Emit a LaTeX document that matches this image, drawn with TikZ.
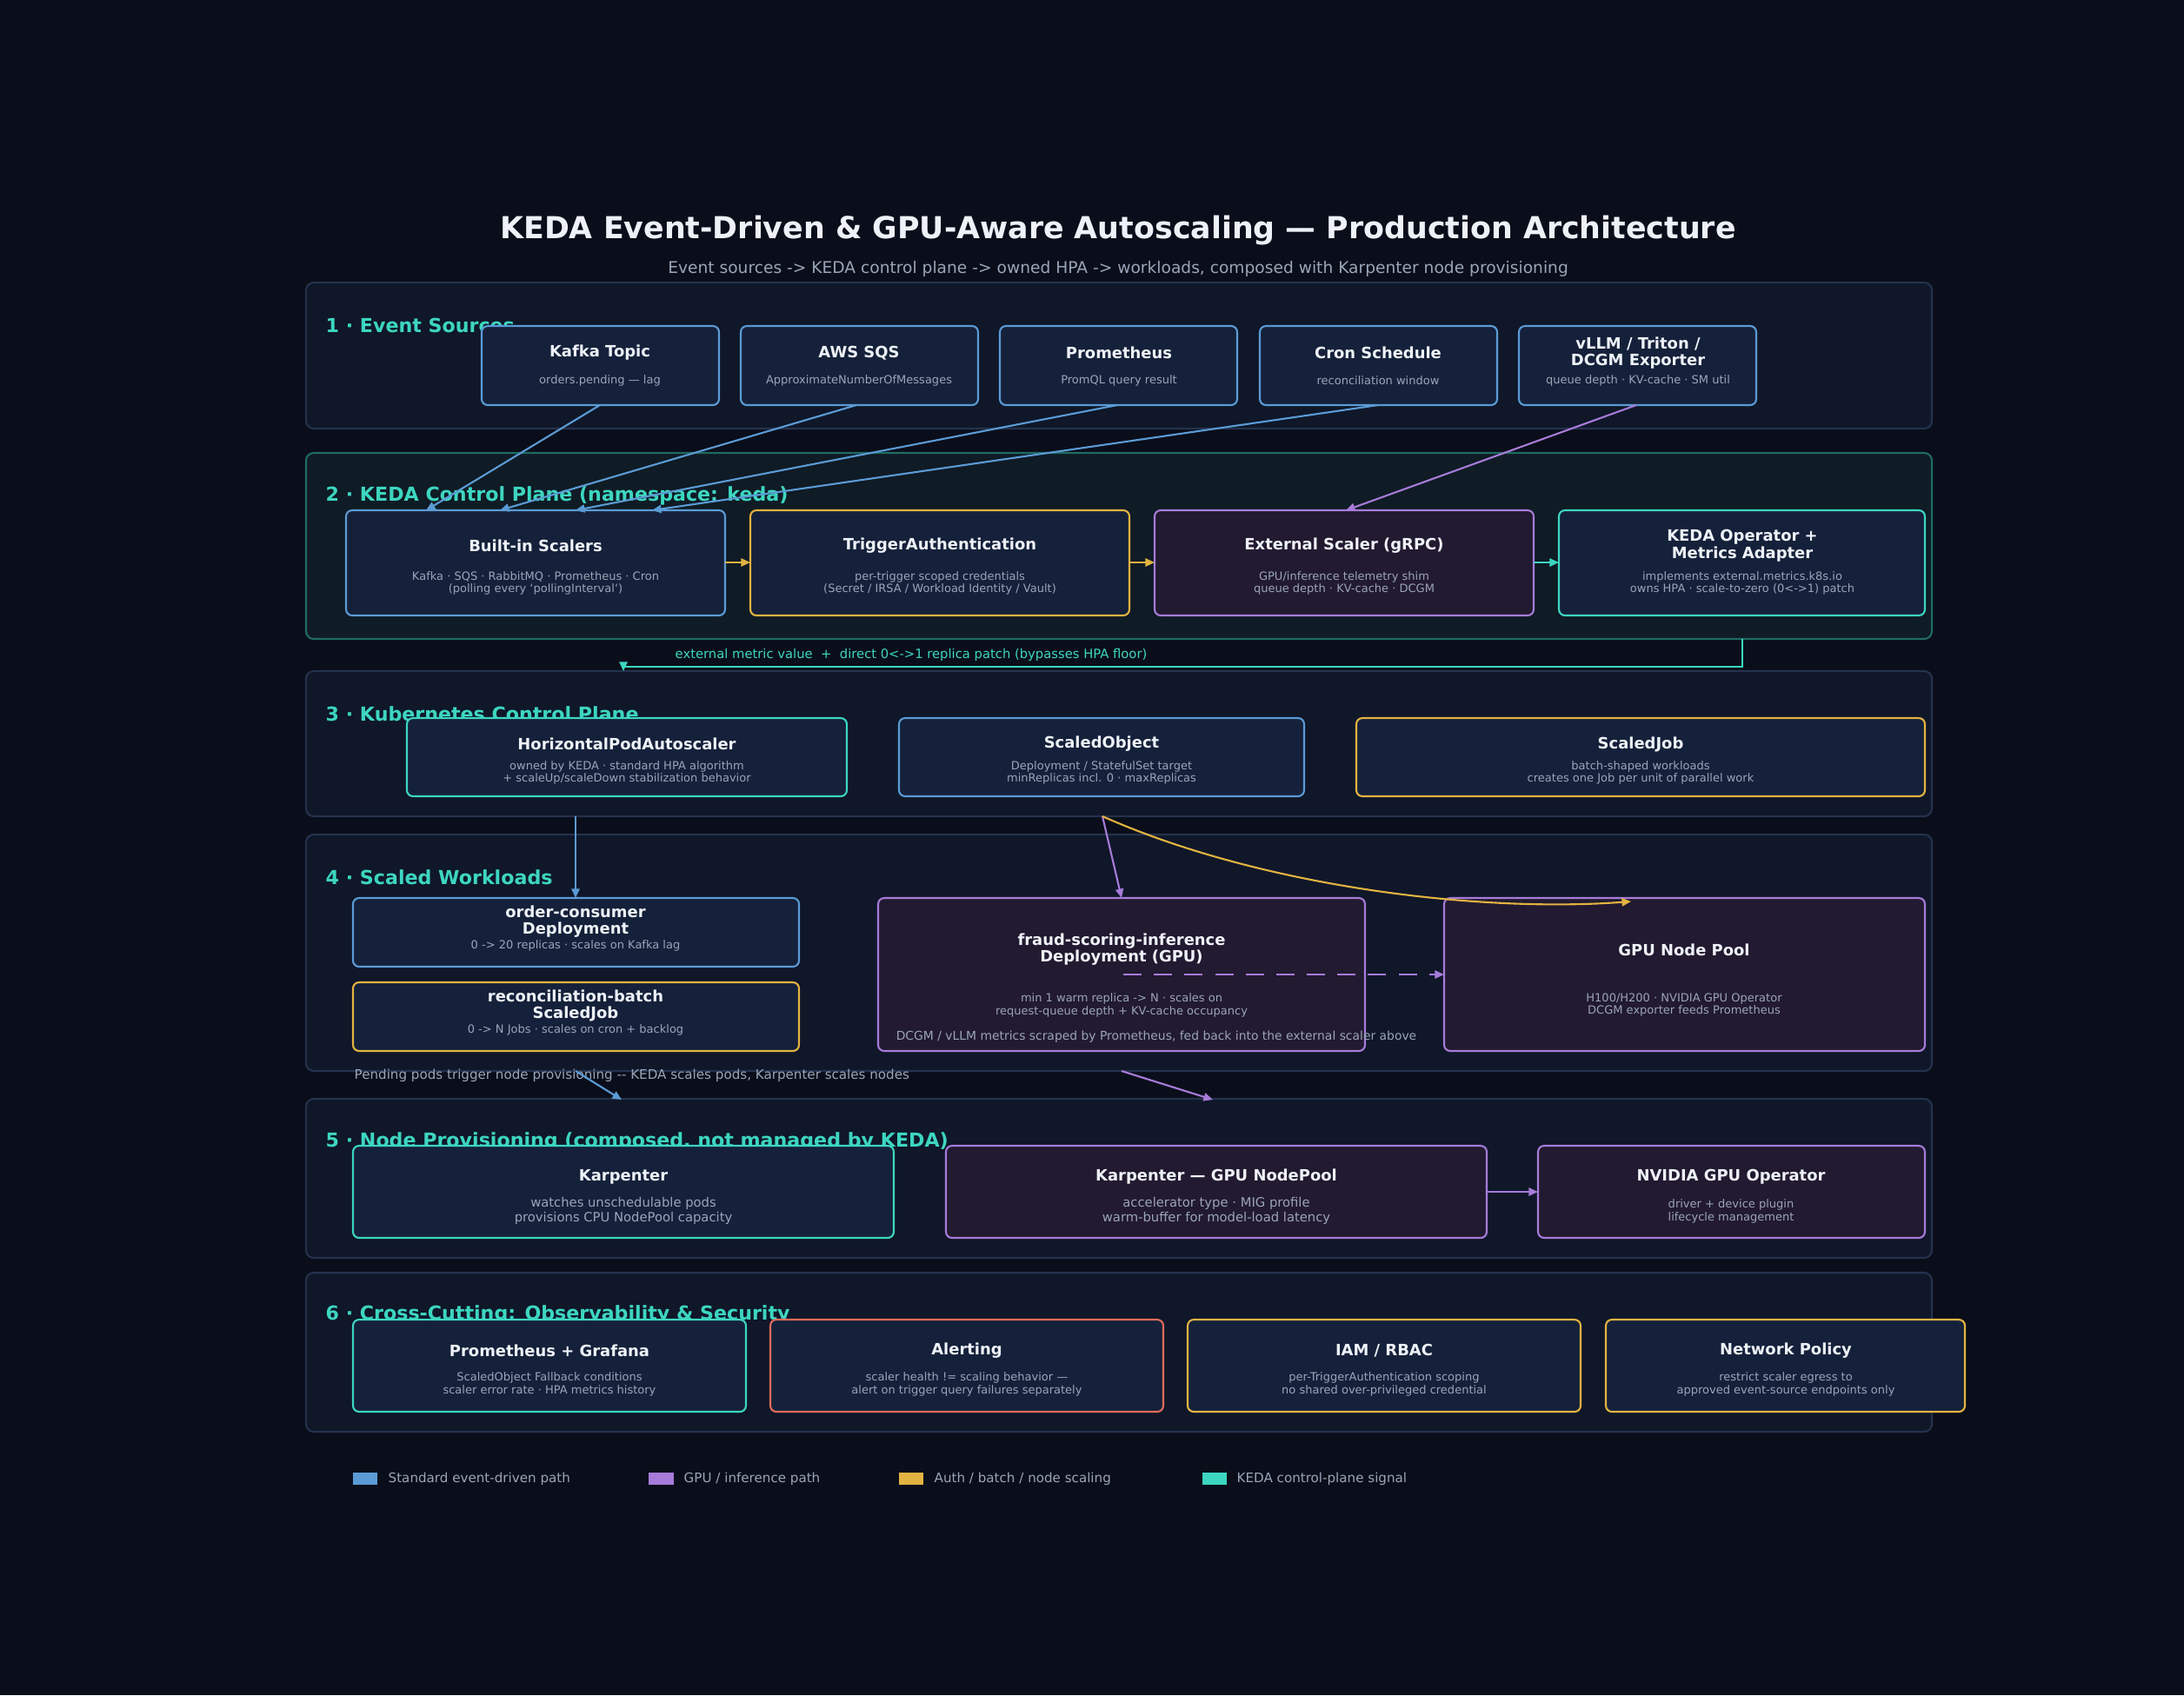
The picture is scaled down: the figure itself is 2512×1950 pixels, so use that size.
\documentclass[tikz,border=0pt]{standalone}
\usepackage{fontspec}
\setmainfont{DejaVu Sans}
\usetikzlibrary{arrows.meta}
\definecolor{bg}{HTML}{0A0E1A}
\definecolor{pfill}{HTML}{0F1729}
\definecolor{pborder}{HTML}{25324D}
\definecolor{kfill}{HTML}{0F1B25}
\definecolor{kborder}{HTML}{1F6B63}
\definecolor{bfill}{HTML}{15213A}
\definecolor{gfill}{HTML}{221A30}
\definecolor{cblue}{HTML}{5B9BD5}
\definecolor{cpurp}{HTML}{A77BD9}
\definecolor{cyel}{HTML}{E3B341}
\definecolor{cteal}{HTML}{3DD6C0}
\definecolor{cred}{HTML}{E06C5A}
\definecolor{ttl}{HTML}{EEF2F8}
\definecolor{sub}{HTML}{9AA5B8}
\begin{document}
\begin{tikzpicture}[x=0.01cm,y=-0.01cm,
 panel/.style={draw=pborder,fill=pfill,line width=0.6pt,rounded corners=2.5pt},
 box/.style={fill=bfill,line width=0.6pt,rounded corners=2pt},
 plabel/.style={anchor=west,inner sep=0pt,text=cteal,font=\bfseries\fontsize{6.3}{7}\selectfont},
 bt/.style={text=ttl,font=\bfseries\fontsize{5.1}{5.6}\selectfont,align=center},
 bs/.style={text=sub,font=\fontsize{3.7}{4.2}\selectfont,align=center},
 ar/.style={-{Triangle[length=3pt,width=2.6pt]},line width=0.6pt},
 note/.style={text=sub,font=\fontsize{4.3}{5}\selectfont}]
\fill[bg] (0,0) rectangle (2512,1950);
\useasboundingbox (0,0) rectangle (2512,1950);
\node[text=ttl,font=\bfseries\fontsize{9.9}{12}\selectfont] (title) at (1286,265) {KEDA Event-Driven \& GPU-Aware Autoscaling — Production Architecture};
\node[text=sub,font=\fontsize{5.3}{6}\selectfont] (subt) at (1286,309) {Event sources -> KEDA control plane -> owned HPA -> workloads, composed with Karpenter node provisioning};
% panels
\draw[panel] (352,325) rectangle (2222,493);
\node[plabel] (l1) at (374,374) {1 · Event Sources};
\draw[draw=kborder,fill=kfill,line width=0.6pt,rounded corners=2.5pt] (352,521) rectangle (2222,735);
\node[plabel] (l2) at (374,570) {2 · KEDA Control Plane  (namespace: keda)};
\draw[panel] (352,772) rectangle (2222,939);
\node[plabel] (l3) at (374,821) {3 · Kubernetes Control Plane};
\draw[panel] (352,960) rectangle (2222,1232);
\node[plabel] (l4) at (374,1009) {4 · Scaled Workloads};
\draw[panel] (352,1264) rectangle (2222,1447);
\node[plabel] (l5) at (374,1313) {5 · Node Provisioning (composed, not managed by KEDA)};
\draw[panel] (352,1464) rectangle (2222,1647);
\node[plabel] (l6) at (374,1512) {6 · Cross-Cutting: Observability \& Security};
% row 1
\draw[box,draw=cblue] (554,375) rectangle (827,466); \coordinate (kafka) at (690,466);
\node[bt] at (690,406) {Kafka Topic}; \node[bs] at (690,438) {orders.pending — lag};
\draw[box,draw=cblue] (852,375) rectangle (1125,466); \coordinate (sqs) at (985,466);
\node[bt] at (988,406) {AWS SQS}; \node[bs] at (988,438) {ApproximateNumberOfMessages};
\draw[box,draw=cblue] (1150,375) rectangle (1423,466); \coordinate (prom) at (1285,466);
\node[bt] at (1287,406) {Prometheus}; \node[bs] at (1287,438) {PromQL query result};
\draw[box,draw=cblue] (1449,375) rectangle (1722,466); \coordinate (cron) at (1585,466);
\node[bt] at (1585,406) {Cron Schedule}; \node[bs] at (1585,438) {reconciliation window};
\draw[box,draw=cblue] (1747,375) rectangle (2020,466); \coordinate (vllm) at (1882,466);
\node[bt] at (1884,406) {vLLM / Triton /\\DCGM Exporter}; \node[bs] at (1884,438) {queue depth · KV-cache · SM util};
% row 2
\draw[box,draw=cblue] (398,587) rectangle (834,708);
\node[bt] at (616,628) {Built-in Scalers}; \node[bs] at (616,671) {Kafka · SQS · RabbitMQ · Prometheus · Cron\\(polling every `pollingInterval`)};
\draw[box,draw=cyel] (863,587) rectangle (1299,708);
\node[bt] at (1081,628) {TriggerAuthentication}; \node[bs] at (1081,671) {per-trigger scoped credentials\\(Secret / IRSA / Workload Identity / Vault)};
\draw[box,draw=cpurp,fill=gfill] (1328,587) rectangle (1764,708);
\node[bt] at (1546,628) {External Scaler (gRPC)}; \node[bs] at (1546,671) {GPU/inference telemetry shim\\queue depth · KV-cache · DCGM};
\draw[box,draw=cteal] (1793,587) rectangle (2214,708);
\node[bt] at (2004,628) {KEDA Operator +\\Metrics Adapter}; \node[bs] at (2004,671) {implements external.metrics.k8s.io\\owns HPA · scale-to-zero (0<->1) patch};
\coordinate (bi) at (490,587); \coordinate (bi2) at (575,587); \coordinate (bi3) at (662,587); \coordinate (bi4) at (750,587); \coordinate (ext) at (1548,587);
\draw[ar,cblue] (kafka) -- (bi);
\draw[ar,cblue] (sqs) -- (bi2);
\draw[ar,cblue] (prom) -- (bi3);
\draw[ar,cblue] (cron) -- (bi4);
\draw[ar,cpurp] (vllm) -- (ext);
\coordinate (a1) at (834,647); \coordinate (a2) at (863,647);
\coordinate (a3) at (1299,647); \coordinate (a4) at (1328,647);
\coordinate (a5) at (1764,647); \coordinate (a6) at (1793,647);
\draw[ar,cyel] (a1) -- (a2); \draw[ar,cyel] (a3) -- (a4); \draw[ar,cteal] (a5) -- (a6);
\coordinate (op) at (2004,735); \coordinate (fb) at (717,772);
\draw[ar,cteal] (op) |- (717,767) -- (fb);
\node[text=cteal,font=\fontsize{4.2}{5}\selectfont] (fbl) at (1048,753) {external metric value \ + \ direct 0<->1 replica patch (bypasses HPA floor)};
% row 3
\draw[box,draw=cteal] (468,826) rectangle (974,916);
\node[bt] at (721,856) {HorizontalPodAutoscaler}; \node[bs] at (721,889) {owned by KEDA · standard HPA algorithm\\+ scaleUp/scaleDown stabilization behavior};
\draw[box,draw=cblue] (1034,826) rectangle (1500,916);
\node[bt] at (1267,856) {ScaledObject}; \node[bs] at (1267,889) {Deployment / StatefulSet target\\minReplicas incl. 0 · maxReplicas};
\draw[box,draw=cyel] (1560,826) rectangle (2214,916);
\node[bt] at (1887,856) {ScaledJob}; \node[bs] at (1887,889) {batch-shaped workloads\\creates one Job per unit of parallel work};
% row 4
\draw[box,draw=cblue] (406,1033) rectangle (919,1112);
\node[bt] at (662,1060) {order-consumer\\Deployment}; \node[bs] at (662,1088) {0 -> 20 replicas · scales on Kafka lag};
\draw[box,draw=cyel] (406,1130) rectangle (919,1209);
\node[bt] at (662,1157) {reconciliation-batch\\ScaledJob}; \node[bs] at (662,1185) {0 -> N Jobs · scales on cron + backlog};
\draw[box,draw=cpurp,fill=gfill] (1010,1033) rectangle (1570,1209);
\node[bt] at (1290,1092) {fraud-scoring-inference\\Deployment (GPU)}; \node[bs] at (1290,1156) {min 1 warm replica -> N · scales on\\request-queue depth + KV-cache occupancy};
\draw[box,draw=cpurp,fill=gfill] (1661,1033) rectangle (2214,1209);
\node[bt] at (1937,1093) {GPU Node Pool}; \node[bs] at (1937,1156) {H100/H200 · NVIDIA GPU Operator\\DCGM exporter feeds Prometheus};
\node[note,font=\fontsize{3.95}{5}\selectfont] (dcgm) at (1330,1193) {DCGM / vLLM metrics scraped by Prometheus, fed back into the external scaler above};
\coordinate (h1) at (662,939); \coordinate (o1) at (662,1033);
\coordinate (s1) at (1268,939); \coordinate (f1) at (1290,1033); \coordinate (g1) at (1876,1037);
\coordinate (d1) at (1292,1121); \coordinate (d2) at (1661,1121);
\draw[ar,cblue] (h1) -- (o1);
\draw[ar,cpurp] (s1) -- (f1);
\draw[ar,cyel] (s1) .. controls (1450,1020) and (1700,1050) .. (g1);
\draw[ar,cpurp,dashed,dash pattern=on 6pt off 4pt] (d1) -- (d2);
\node[note,anchor=west,inner sep=0pt] (pend) at (407,1237) {Pending pods trigger node provisioning {-}{-} KEDA scales pods, Karpenter scales nodes};
\coordinate (p1) at (662,1232); \coordinate (p2) at (715,1265); \coordinate (p3) at (1290,1232); \coordinate (p4) at (1395,1265);
\draw[ar,cblue] (p1) -- (p2); \draw[ar,cpurp] (p3) -- (p4);
% row 5
\draw[box,draw=cteal] (406,1318) rectangle (1028,1424);
\node[bt] at (717,1354) {Karpenter}; \node[bs,font=\fontsize{4.2}{4.9}\selectfont] at (717,1393) {watches unschedulable pods\\provisions CPU NodePool capacity};
\draw[box,draw=cpurp,fill=gfill] (1088,1318) rectangle (1710,1424);
\node[bt] at (1399,1354) {Karpenter — GPU NodePool}; \node[bs,font=\fontsize{4.2}{4.9}\selectfont] at (1399,1393) {accelerator type · MIG profile\\warm-buffer for model-load latency};
\draw[box,draw=cpurp,fill=gfill] (1769,1318) rectangle (2214,1424);
\node[bt] at (1991,1354) {NVIDIA GPU Operator}; \node[bs] at (1991,1393) {driver + device plugin\\lifecycle management};
\coordinate (k1) at (1710,1371); \coordinate (k2) at (1769,1371);
\draw[ar,cpurp] (k1) -- (k2);
% row 6
\draw[box,draw=cteal] (406,1518) rectangle (858,1624);
\node[bt] at (632,1554) {Prometheus + Grafana}; \node[bs] at (632,1592) {ScaledObject Fallback conditions\\scaler error rate · HPA metrics history};
\draw[box,draw=cred] (886,1518) rectangle (1338,1624);
\node[bt] at (1112,1554) {Alerting}; \node[bs] at (1112,1592) {scaler health != scaling behavior —\\alert on trigger query failures separately};
\draw[box,draw=cyel] (1366,1518) rectangle (1818,1624);
\node[bt] at (1592,1554) {IAM / RBAC}; \node[bs] at (1592,1592) {per-TriggerAuthentication scoping\\no shared over-privileged credential};
\draw[box,draw=cyel] (1847,1518) rectangle (2260,1624);
\node[bt] at (2054,1554) {Network Policy}; \node[bs] at (2054,1592) {restrict scaler egress to\\approved event-source endpoints only};
% legend
\fill[cblue] (406,1694) rectangle (434,1708); \node[note,anchor=west,inner sep=0pt] at (446,1701) {Standard event-driven path};
\fill[cpurp] (746,1694) rectangle (775,1708); \node[note,anchor=west,inner sep=0pt] at (786,1701) {GPU / inference path};
\fill[cyel] (1034,1694) rectangle (1062,1708); \node[note,anchor=west,inner sep=0pt] at (1074,1701) {Auth / batch / node scaling};
\fill[cteal] (1383,1694) rectangle (1411,1708); \node[note,anchor=west,inner sep=0pt] at (1422,1701) {KEDA control-plane signal};
\end{tikzpicture}
\end{document}
